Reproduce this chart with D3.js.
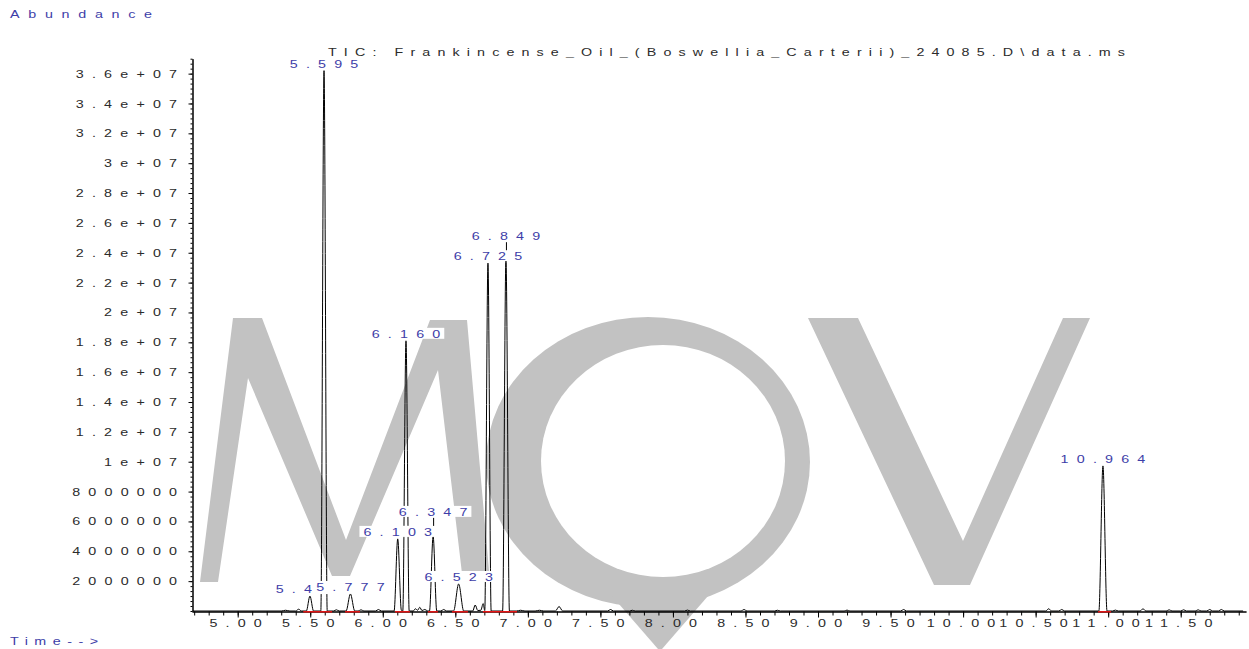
<!DOCTYPE html>
<html>
<head>
<meta charset="utf-8">
<script src="https://cdn.jsdelivr.net/npm/d3@7/dist/d3.min.js"></script>
<style>
  body { margin: 0; background: #fff; }
  svg text { font-family: "Liberation Sans", Arial, sans-serif; font-size: 11px; }
</style>
</head>
<body>
<div id="chart"></div>
<script>
// TIC trace, [retention time (min), abundance]
var trace = [
  [4.69, 0], [5.30, 0], [5.33, 5e4], [5.36, 0], [5.40, 0], [5.42, 1.2e5], [5.44, 0],
  [5.473, 0], [5.498, 1.0e6], [5.523, 0],
  [5.573, 0], [5.595, 3.62e7], [5.617, 0],
  [5.66, 0], [5.68, 8e4], [5.70, 0],
  [5.747, 0], [5.777, 1.14e6], [5.807, 0],
  [5.83, 0], [5.85, 8e4], [5.87, 0], [5.95, 0], [5.97, 1e5], [5.99, 0],
  [6.078, 0], [6.103, 4.83e6], [6.128, 5e4], [6.138, 0],
  [6.160, 1.81e7], [6.182, 0],
  [6.21, 0], [6.225, 1.5e5], [6.24, 5e4], [6.255, 2.5e5], [6.27, 3e4], [6.29, 1e5], [6.31, 0],
  [6.322, 0], [6.347, 5.0e6], [6.372, 0],
  [6.40, 0], [6.42, 1e5], [6.44, 0],
  [6.488, 0], [6.523, 1.81e6], [6.558, 0],
  [6.62, 0], [6.637, 4e5], [6.655, 3e4], [6.676, 5e4], [6.692, 5e5], [6.703, 3e4],
  [6.725, 2.33e7], [6.747, 0],
  [6.826, 0], [6.849, 2.36e7], [6.873, 0],
  [6.92, 0], [6.95, 5e4], [6.98, 0], [7.05, 0], [7.08, 5e4], [7.11, 0],
  [7.19, 0], [7.215, 3e5], [7.24, 0],
  [7.55, 0], [7.57, 1e5], [7.59, 0], [7.70, 0], [7.72, 5e4], [7.74, 0],
  [8.08, 0], [8.10, 6e4], [8.12, 0], [8.47, 0], [8.49, 1e5], [8.51, 0],
  [8.70, 0], [8.72, 5e4], [8.74, 0],
  [9.18, 0], [9.20, 6e4], [9.22, 0], [9.57, 0], [9.59, 1e5], [9.61, 0],
  [10.57, 0], [10.59, 1.5e5], [10.61, 0], [10.66, 0], [10.68, 1e5], [10.70, 0],
  [10.936, 0], [10.964, 9.72e6], [10.992, 0],
  [11.03, 0], [11.05, 6e4], [11.07, 0], [11.22, 0], [11.24, 1.5e5], [11.26, 0],
  [11.40, 0], [11.42, 8e4], [11.44, 0], [11.50, 0], [11.52, 8e4], [11.54, 0],
  [11.60, 0], [11.62, 8e4], [11.64, 0], [11.68, 0], [11.70, 1e5], [11.72, 0],
  [11.76, 0], [11.78, 1e5], [11.80, 0], [11.93, 0]
];

// labelled peaks
var peakTimes  = [5.498, 5.595, 5.777, 6.103, 6.160, 6.347, 6.523, 6.725, 6.849, 10.964];
var peakLabels = ["5.498", "5.595", "5.777", "6.103", "6.160", "6.347", "6.523", "6.725", "6.849", "10.964"];

// integration baselines (red)
var integStart = [5.452, 5.740, 6.084, 6.311, 6.477, 6.690, 10.930];
var integEnd   = [5.651, 5.843, 6.187, 6.380, 6.587, 6.925, 11.020];

var xTickValues = [5.0, 5.5, 6.0, 6.5, 7.0, 7.5, 8.0, 8.5, 9.0, 9.5, 10.0, 10.5, 11.0, 11.5];
var xTickLabels = ["5.00", "5.50", "6.00", "6.50", "7.00", "7.50", "8.00", "8.50", "9.00", "9.50", "10.00", "10.50", "11.00", "11.50"];
var yTickValues = [2e6, 4e6, 6e6, 8e6, 1e7, 1.2e7, 1.4e7, 1.6e7, 1.8e7, 2e7, 2.2e7, 2.4e7, 2.6e7, 2.8e7, 3e7, 3.2e7, 3.4e7, 3.6e7];
var yTickLabels = ["2000000", "4000000", "6000000", "8000000", "1e+07", "1.2e+07", "1.4e+07", "1.6e+07", "1.8e+07", "2e+07",
                   "2.2e+07", "2.4e+07", "2.6e+07", "2.8e+07", "3e+07", "3.2e+07", "3.4e+07", "3.6e+07"];

var titleText = "TIC: Frankincense_Oil_(Boswellia_Carterii)_24085.D\\data.ms";

(function () {
    var width = 1249, height = 649;
    var blue = "#3d3da8", grey = "#2b2b2b", wm = "#c2c2c2";
    var k = 1.3;     // chemstation text is drawn horizontally stretched
    var sp = 6.3;    // letter spacing, before stretching
    var pad = 4;     // white box padding round peak labels

    var svg = d3.select('#chart')
                .append('svg')
                .attr('width', width)
                .attr('height', height);

    var x = d3.scaleLinear().domain([4.685, 11.95]).range([192, 1246]);
    var y = d3.scaleLinear().domain([0, 3.7e7]).range([611, 58.7]);

    // watermark "MOV" behind everything
    var w = svg.append('g').attr('class', 'watermark').style('fill', wm);
    w.append('path')
        .attr('d', 'M200,582 L233,318 L262,318 L346,540 L430,320 L467,320 L490,582 L463,582 L438,370 L350,576 L332,576 L248,378 L218,582 Z');
    w.append('ellipse').attr('cx', 648).attr('cy', 462).attr('rx', 162).attr('ry', 145);
    w.append('path').attr('d', 'M612,596 L708,596 L662,649 L658,649 Z');
    w.append('ellipse').attr('cx', 663).attr('cy', 461).attr('rx', 122).attr('ry', 116).style('fill', '#fff');
    w.append('path')
        .attr('d', 'M808,318 L858,318 L963,541 L1063,318 L1090,318 L970,585 L934,585 Z');

    // trace
    var line = d3.line()
        .x(function (d) { return x(d[0]); })
        .y(function (d) { return y(d[1]); })
        .curve(d3.curveMonotoneX);

    svg.append('path')
        .datum(trace)
        .attr('d', line)
        .style('fill', 'none')
        .style('stroke', '#000')
        .style('stroke-width', 1);

    // stretched text helper: text placed at (px, py) in page pixels
    function stretched(g, px, py, str, color, spacing) {
        return g.append('text')
            .attr('transform', 'translate(' + px + ',' + py + ') scale(' + k + ',1)')
            .text(str)
            .style('letter-spacing', spacing + 'px')
            .style('fill', color);
    }

    // x axis: minor ticks, then major ticks with labels
    svg.append('g')
        .attr('transform', 'translate(0,' + (y(0) + 0.5) + ')')
        .call(d3.axisBottom(x).tickValues(d3.range(4.7, 11.95, 0.1)).tickSize(4).tickFormat('').tickSizeOuter(0));

    var xa = svg.append('g')
        .attr('transform', 'translate(0,' + (y(0) + 0.5) + ')')
        .call(d3.axisBottom(x).tickValues(xTickValues).tickSize(6).tickPadding(2)
              .tickFormat(function (d, i) { return xTickLabels[i]; }).tickSizeOuter(0));
    xa.selectAll('text')
        .attr('transform', 'scale(' + k + ',1)')
        .attr('dx', sp / 2 - 2)
        .style('letter-spacing', sp + 'px')
        .style('fill', grey);

    // y axis
    svg.append('g')
        .attr('transform', 'translate(192.5,0)')
        .call(d3.axisLeft(y).tickValues(d3.range(0, 3.7e7 + 1, 2e6 / 6)).tickSize(2).tickFormat('').tickSizeOuter(0));

    var ya = svg.append('g')
        .attr('transform', 'translate(192.5,0)')
        .call(d3.axisLeft(y).tickValues(yTickValues).tickSize(4)
              .tickFormat(function (d, i) { return yTickLabels[i]; }).tickSizeOuter(0));
    ya.selectAll('text')
        .attr('transform', 'scale(' + k + ',1)')
        .attr('x', -15.5 / k)
        .attr('dx', sp)
        .style('letter-spacing', sp + 'px')
        .style('fill', grey);

    svg.selectAll('.domain').style('stroke', '#000');
    svg.selectAll('.tick line').style('stroke', '#000');

    // red integration baselines, on top of the axis line
    svg.selectAll('line.integ')
        .data(integStart)
        .enter()
        .append('line')
        .attr('class', 'integ')
        .attr('x1', function (d) { return x(d); })
        .attr('x2', function (d, i) { return x(integEnd[i]); })
        .attr('y1', y(0) + 0.8)
        .attr('y2', y(0) + 0.8)
        .style('stroke', '#e81515')
        .style('stroke-width', 1.5);

    // axis titles and chart title
    stretched(svg, 10, 18, 'Abundance', blue, 6.7);
    stretched(svg, 10, 645, 'Time-->', blue, 5.0);
    stretched(svg, 328, 56, titleText, grey, 0)
        .attr('textLength', 797 / k).attr('lengthAdjust', 'spacing');

    // peak labels: lift a label above its neighbour when they mostly overlap
    function apex(t) {
        var best = 0;
        trace.forEach(function (d) { if (Math.abs(d[0] - t) < 0.004 && d[1] > best) best = d[1]; });
        return best;
    }
    function textWidth(str) {
        var tmp = svg.append('text').text(str).style('letter-spacing', sp + 'px');
        var tw = (tmp.node().getBBox().width - sp) * k;
        tmp.remove();
        return tw;
    }

    var placed = [];
    var labels = peakTimes.map(function (t, i) {
        var top = y(apex(t));
        var tw = textWidth(peakLabels[i]);
        var lab = { text: peakLabels[i], shown: peakLabels[i], px: x(t), top: top, base: top - 3, w: tw };
        lab.left = lab.px - tw / 2;
        placed.forEach(function (p) {
            var ov = Math.min(p.left + p.w, lab.left + lab.w) - Math.max(p.left, lab.left);
            if (ov > 0.43 * lab.w && Math.abs(p.base - lab.base) < 12) lab.base = p.base - 20;
        });
        placed.push(lab);
        return lab;
    });

    // a later label box hides the tail of an earlier one on the same row
    labels.forEach(function (a, i) {
        labels.slice(i + 1).forEach(function (b) {
            if (Math.abs(a.base - b.base) < 12 && b.left - pad < a.left + a.w && b.left > a.left) {
                while (a.shown.length > 1 && a.left + textWidth(a.shown) > b.left - 2) {
                    a.shown = a.shown.slice(0, -1);
                }
            }
        });
    });

    // connectors first, then the white label boxes over them
    svg.selectAll('line.conn')
        .data(labels.filter(function (d) { return d.top - d.base > 5; }))
        .enter()
        .append('line')
        .attr('class', 'conn')
        .attr('x1', function (d) { return d.px + 0.5; })
        .attr('x2', function (d) { return d.px + 0.5; })
        .attr('y1', function (d) { return d.base + 2; })
        .attr('y2', function (d) { return d.top; })
        .style('stroke', '#000')
        .style('stroke-width', 1);

    labels.forEach(function (d) {
        var g = svg.append('g').attr('class', 'plabel');
        g.append('rect')
            .attr('x', d.left - pad)
            .attr('y', d.base - 10)
            .attr('width', d.w + 2 * pad)
            .attr('height', 11)
            .style('fill', '#fff');
        stretched(g, d.left, d.base, d.shown, blue, sp);
    });
})();
</script>
</body>
</html>
